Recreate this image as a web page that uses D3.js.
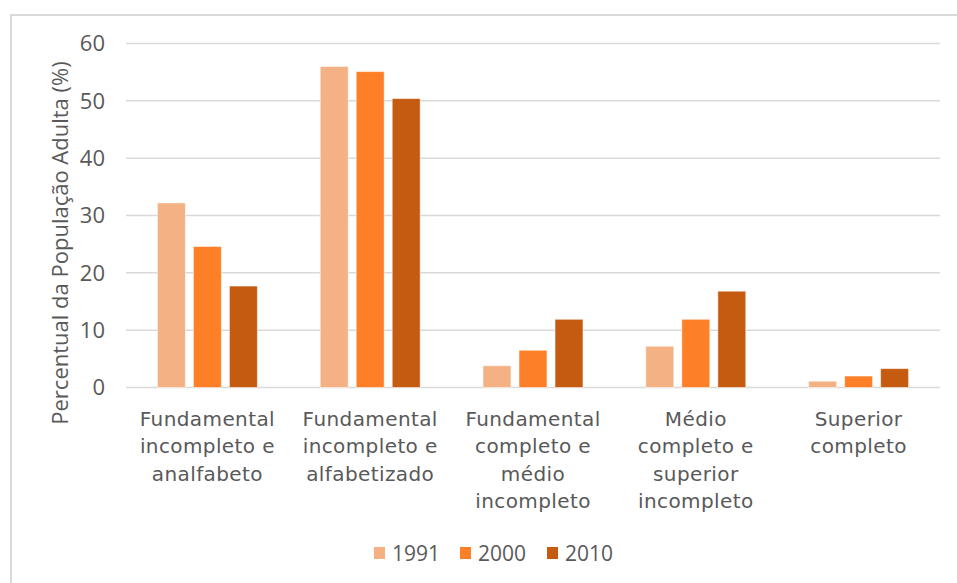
<!DOCTYPE html>
<html>
<head>
<meta charset="utf-8">
<script src="https://cdn.jsdelivr.net/npm/d3@7"></script>
<style>
  html, body { margin: 0; padding: 0; background: #fff; }
  svg { display: block; }
</style>
</head>
<body>
<div id="chart"></div>
<script>
(function () {
  "use strict";

  // categories, each given as its wrapped label lines
  var categories = [
    ["Fundamental", "incompleto e", "analfabeto"],
    ["Fundamental", "incompleto e", "alfabetizado"],
    ["Fundamental", "completo e", "médio", "incompleto"],
    ["Médio", "completo e", "superior", "incompleto"],
    ["Superior", "completo"]
  ];
  var years = ["1991", "2000", "2010"];
  var v1991 = [32.2, 56.0, 3.8, 7.2, 1.1];
  var v2000 = [24.6, 55.1, 6.5, 11.9, 2.0];
  var v2010 = [17.7, 50.4, 11.9, 16.8, 3.3];
  var yTicks = [0, 10, 20, 30, 40, 50, 60];
  var yTitle = "Percentual da População Adulta (%)";

  var series = [v1991, v2000, v2010];
  var COL = ["#F4B183", "#FD7F27", "#C55B11"];
  var GRID = "#d9d9d9", TXT = "#595959";

  var W = 957, H = 583;
  var X0 = 126, X1 = 940, Y0 = 387.5, Y1 = 43.5;

  var svg = d3.select("#chart").append("svg")
    .attr("width", W).attr("height", H);
  svg.append("rect").attr("width", W).attr("height", H).attr("fill", "#fff");

  // chart frame (only left and top edges are visible in the crop)
  svg.append("path")
    .attr("d", "M11," + H + "V15H" + W)
    .attr("fill", "none").attr("stroke", GRID).attr("stroke-width", 2);

  var idx = categories.map(function (d, i) { return i; });
  var x = d3.scaleBand().domain(idx).range([X0, X1]);
  var xs = d3.scaleBand().domain(years).range([-50, 50]).paddingInner(8 / 36);
  var y = d3.scaleLinear().domain([0, 60]).range([Y0, Y1]);

  // grid
  svg.append("g").selectAll("line").data(yTicks).enter().append("line")
    .attr("x1", X0).attr("x2", X1)
    .attr("y1", function (d) { return y(d); })
    .attr("y2", function (d) { return y(d); })
    .attr("stroke", GRID).attr("stroke-width", 1.5);

  // y tick labels
  svg.append("g").selectAll("text").data(yTicks).enter().append("text")
    .attr("x", 105).attr("y", function (d) { return y(d); })
    .attr("dy", "0.36em").attr("text-anchor", "end")
    .attr("fill", TXT).style("font", "22px 'Open Sans', sans-serif")
    .text(function (d) { return d; });

  // y axis title
  svg.append("text")
    .attr("transform", "translate(68,243) rotate(-90)")
    .attr("text-anchor", "middle").attr("fill", TXT)
    .style("font", "22px 'Open Sans', sans-serif")
    .text(yTitle);

  // bars
  years.forEach(function (yr, s) {
    svg.append("g").selectAll("rect").data(series[s]).enter().append("rect")
      .attr("x", function (d, i) { return x(i) + x.bandwidth() / 2 + xs(yr); })
      .attr("width", xs.bandwidth())
      .attr("y", function (d) { return y(d); })
      .attr("height", function (d) { return Y0 - y(d); })
      .attr("fill", COL[s])
      .attr("stroke", "#fff").attr("stroke-opacity", 0.55).attr("stroke-width", 1);
  });

  // category labels
  var lab = svg.append("g").selectAll("text").data(categories).enter().append("text")
    .attr("text-anchor", "middle").attr("fill", TXT)
    .style("font", "20px 'DejaVu Sans', sans-serif")
    .style("letter-spacing", "0.4px");
  lab.each(function (lines, i) {
    var t = d3.select(this);
    lines.forEach(function (ln, k) {
      t.append("tspan")
        .attr("x", x(i) + x.bandwidth() / 2)
        .attr("y", 426 + k * 27.3)
        .text(ln);
    });
  });

  // legend
  var legX = [374, 460, 547];
  var lg = svg.append("g").selectAll("g").data(years).enter().append("g")
    .attr("transform", function (d, i) { return "translate(" + legX[i] + ",0)"; });
  lg.append("rect").attr("x", 0).attr("y", 547).attr("width", 11).attr("height", 12)
    .attr("fill", function (d, i) { return COL[i]; });
  lg.append("text").attr("x", 18).attr("y", 561)
    .attr("fill", TXT).style("font", "21px 'Open Sans', sans-serif")
    .text(function (d) { return d; });
})();
</script>
</body>
</html>
